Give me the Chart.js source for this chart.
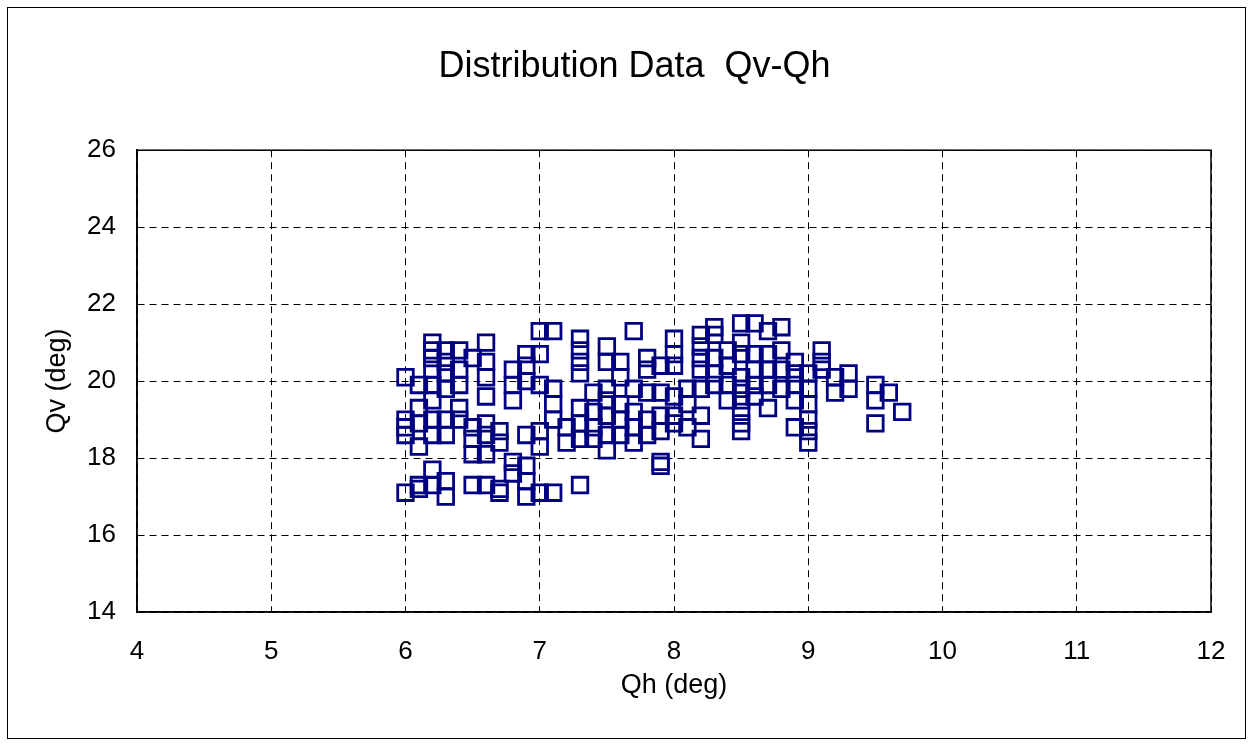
<!DOCTYPE html>
<html>
<head>
<meta charset="utf-8">
<title>Distribution Data Qv-Qh</title>
<script src="https://cdn.jsdelivr.net/npm/chart.js@4.4.0/dist/chart.umd.min.js"></script>
<style>
    html, body { margin: 0; padding: 0; background: #fff; }
    #wrap { position: relative; width: 1252px; height: 745px; }
    #frame {
        position: absolute; left: 7px; top: 7px;
        width: 1237px; height: 730px;
        border: 1px solid #000; pointer-events: none;
    }
</style>
</head>
<body>
<div id="wrap">
    <canvas id="chart" width="1252" height="745"></canvas>
    <div id="frame"></div>
</div>
<script>
// ────────────────────────────────────────────────
// Data (Qh columns and the Qv values read at each)
// ────────────────────────────────────────────────
const qhColumns = [6.0, 6.1, 6.2, 6.3, 6.4, 6.5, 6.6, 6.7, 6.8, 6.9,
                   7.0, 7.1, 7.2, 7.3, 7.4, 7.5, 7.6, 7.7, 7.8, 7.9,
                   8.0, 8.1, 8.2, 8.3, 8.4, 8.5, 8.6, 8.7, 8.8, 8.9,
                   9.0, 9.1, 9.2, 9.3, 9.5, 9.6, 9.7];

const qvByColumn = [
    [20.1, 19.0, 18.8, 18.6, 17.1],
    [19.9, 19.3, 18.9, 18.3, 17.3, 17.2],
    [21.0, 20.8, 20.6, 20.3, 19.9, 19.5, 19.0, 18.6, 17.7, 17.3],
    [20.8, 20.5, 20.2, 19.8, 19.0, 18.6, 17.4, 17.0],
    [20.8, 20.3, 19.9, 19.3, 19.0],
    [20.6, 18.8, 18.5, 18.1, 17.3],
    [21.0, 20.5, 20.1, 19.6, 18.9, 18.6, 18.1, 17.3],
    [18.7, 18.4, 17.2, 17.1],
    [20.3, 19.9, 19.5, 17.9, 17.6],
    [20.7, 20.4, 20.0, 18.6, 17.8, 17.4, 17.0],
    [21.3, 20.7, 19.9, 18.7, 18.3, 17.1],
    [21.3, 19.8, 19.4, 19.0, 17.1],
    [18.8, 18.4],
    [21.1, 20.8, 20.5, 20.2, 19.3, 18.9, 18.5, 17.3],
    [19.7, 19.2, 18.8, 18.5],
    [20.9, 20.5, 19.8, 19.5, 19.1, 18.6, 18.2],
    [20.5, 20.1, 19.4, 19.0, 18.6],
    [21.3, 19.8, 19.2, 18.8, 18.4],
    [20.6, 20.3, 19.7, 19.0, 18.6],
    [20.4, 19.7, 19.1, 18.7, 17.9, 17.8],
    [21.1, 20.7, 20.4, 19.6, 19.1, 18.9],
    [19.8, 19.4, 18.8],
    [21.2, 20.9, 20.6, 20.3, 19.8, 19.1, 18.5],
    [21.4, 21.2, 20.6, 20.2, 19.9],
    [20.8, 20.4, 19.9, 19.5],
    [21.5, 21.0, 20.7, 20.1, 19.8, 19.5, 19.2, 18.9, 18.7],
    [21.5, 20.7, 20.3, 19.9, 19.6],
    [21.3, 20.7, 20.3, 19.9, 19.3],
    [21.4, 20.8, 20.3, 19.8],
    [20.5, 20.2, 19.9, 19.5, 18.8],
    [20.2, 19.8, 19.4, 19.0, 18.7, 18.4],
    [20.8, 20.5, 20.3],
    [20.1, 19.7],
    [20.2, 19.8],
    [19.9, 19.5, 18.9],
    [19.7],
    [19.2]
];

const xTicks = [4, 5, 6, 7, 8, 9, 10, 11, 12];
const yTicks = [14, 16, 18, 20, 22, 24, 26];

// Flatten into {x, y} points for Chart.js
const points = [];
qhColumns.forEach((qh, i) => {
    qvByColumn[i].forEach(qv => points.push({ x: qh, y: qv }));
});

const FONT = '"Liberation Sans", Arial, sans-serif';

// Solid frame around the plot area
const plotFrame = {
    id: 'plotFrame',
    afterDraw(chart) {
        const { ctx, chartArea: a } = chart;
        ctx.save();
        ctx.strokeStyle = '#000';
        ctx.lineWidth = 1.5;
        ctx.strokeRect(a.left, a.top, a.right - a.left, a.bottom - a.top);
        ctx.restore();
    }
};

const dashedGrid = {
    color: '#000',
    lineWidth: 1,
    drawTicks: false
};

new Chart(document.getElementById('chart'), {
    type: 'scatter',
    data: {
        datasets: [{
            data: points,
            pointStyle: 'rect',
            pointRadius: 11,
            pointBorderWidth: 2.8,
            pointBorderColor: '#000080',
            pointBackgroundColor: 'rgba(0,0,0,0)'
        }]
    },
    options: {
        responsive: false,
        animation: false,
        // left padding is wider so the title sits slightly right of centre
        layout: { padding: { left: 58, right: 41, top: 0, bottom: 43 } },
        plugins: {
            legend: { display: false },
            tooltip: { enabled: false },
            title: {
                display: true,
                text: 'Distribution Data  Qv-Qh',
                color: '#000',
                font: { family: FONT, size: 36, weight: 'normal' },
                padding: { top: 45, bottom: 62 }
            }
        },
        scales: {
            x: {
                type: 'linear',
                min: 4,
                max: 12,
                afterBuildTicks: s => { s.ticks = xTicks.map(v => ({ value: v })); },
                afterFit: s => { s.height = 90; },
                grid: dashedGrid,
                border: { display: true, color: '#000', width: 1.5, dash: [7, 5] },
                ticks: {
                    color: '#000',
                    padding: 24,
                    font: { family: FONT, size: 26 }
                },
                title: {
                    display: true,
                    text: 'Qh (deg)',
                    color: '#000',
                    font: { family: FONT, size: 27 },
                    padding: { top: 0, bottom: 0 }
                }
            },
            y: {
                type: 'linear',
                min: 14,
                max: 26,
                afterBuildTicks: s => { s.ticks = yTicks.map(v => ({ value: v })); },
                afterFit: s => { s.width = 79; },
                grid: dashedGrid,
                border: { display: true, color: '#000', width: 1.5, dash: [7, 5] },
                ticks: {
                    color: '#000',
                    padding: 21,
                    font: { family: FONT, size: 26 }
                },
                title: {
                    display: true,
                    text: 'Qv (deg)',
                    color: '#000',
                    font: { family: FONT, size: 27 },
                    padding: { top: -17, bottom: 0 }
                }
            }
        }
    },
    plugins: [plotFrame]
});
</script>
</body>
</html>
